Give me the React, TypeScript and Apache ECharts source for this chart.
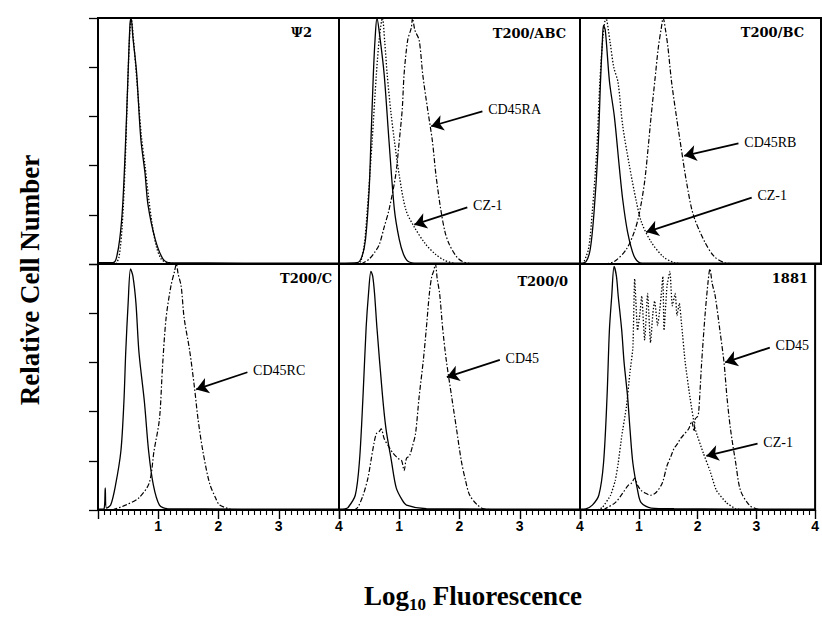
import React, { useEffect, useRef } from 'react';
import * as echarts from 'echarts';

// ---------- data: [log10 fluorescence, relative cell number (% of panel height)] ----------
// Panel "Ψ2"
const psi2Control = [[0,0.5],[0.25,0.5],[0.3,2],[0.36,10],[0.41,24],[0.46,51],[0.5,78],[0.53,97],[0.55,100],[0.58,92],[0.64,78],[0.71,51],[0.78,37],[0.83,24],[0.95,10],[1.08,2],[1.2,0.5],[4,0.3]];
const psi2Stain = [[0.3,0],[0.35,3],[0.4,15],[0.45,40],[0.49,70],[0.52,90],[0.55,100],[0.6,88],[0.66,70],[0.72,52],[0.78,40],[0.84,27],[0.9,16],[0.97,7],[1.05,2],[1.15,0.5],[1.4,0]];
// Panel "T200/ABC"
const abcControl = [[0,0.3],[0.3,0.5],[0.38,3],[0.44,10],[0.5,30],[0.53,50],[0.57,77],[0.6,92],[0.63,100],[0.68,92],[0.75,77],[0.83,50],[0.92,22],[1.0,10],[1.07,4],[1.15,1],[1.3,0.3],[4,0.3]];
const abcCZ1 = [[0.3,0],[0.36,1],[0.42,8],[0.47,22],[0.55,50],[0.62,77],[0.67,92],[0.72,100],[0.76,90],[0.8,77],[0.86,62],[0.92,50],[1.0,36],[1.11,22],[1.25,15],[1.44,8],[1.6,4],[1.75,1.5],[1.9,0.3]];
const abcCD45RA = [[0.37,0],[0.5,2],[0.6,5],[0.67,8],[0.75,15],[0.83,22],[0.94,36],[1.0,50],[1.05,63],[1.08,77],[1.14,91],[1.2,96],[1.22,100],[1.26,95],[1.33,91],[1.39,77],[1.47,63],[1.55,50],[1.61,36],[1.69,22],[1.76,13],[1.83,8],[1.95,3],[2.05,1],[2.2,0]];
// Panel "T200/BC"
const bcControl = [[0,0.3],[0.1,1],[0.17,6],[0.23,20],[0.3,47],[0.34,74],[0.37,90],[0.39,97],[0.42,95],[0.49,74],[0.57,60],[0.65,40],[0.71,26],[0.79,13],[0.9,3],[1.0,0.5],[1.2,0.3],[4,0.3]];
const bcCZ1 = [[0.05,0],[0.14,6],[0.2,20],[0.28,47],[0.33,74],[0.38,92],[0.43,100],[0.5,90],[0.56,80],[0.63,74],[0.71,56],[0.82,40],[0.93,26],[1.02,17],[1.18,9],[1.38,3],[1.57,0.5],[1.8,0]];
const bcCD45RB = [[0.4,0],[0.57,1],[0.77,6],[0.9,13],[0.98,20],[1.07,33],[1.13,47],[1.18,60],[1.24,74],[1.3,88],[1.35,96],[1.38,100],[1.42,95],[1.46,88],[1.52,74],[1.6,60],[1.68,47],[1.77,33],[1.88,20],[2.07,9],[2.23,3],[2.4,0.5],[2.6,0]];
// Panel "T200/C"
const cControl = [[0,0.3],[0.1,0.5],[0.12,9],[0.14,0.8],[0.21,2],[0.29,10],[0.38,24],[0.43,44],[0.46,64],[0.5,84],[0.54,98],[0.58,95],[0.63,84],[0.68,64],[0.77,44],[0.84,24],[0.92,10],[1.02,2],[1.15,0.5],[4,0.3]];
const cCD45RC = [[0.24,0],[0.46,2],[0.68,5],[0.85,11],[0.93,24],[1.02,37],[1.07,58],[1.13,78],[1.21,91],[1.27,97],[1.3,100],[1.33,96],[1.38,91],[1.43,78],[1.52,65],[1.6,50],[1.66,37],[1.74,24],[1.85,11],[1.95,5],[2.02,2],[2.2,0.3]];
// Panel "T200/0"
const zeroControl = [[0,0.3],[0.1,0.5],[0.15,1],[0.27,6],[0.34,20],[0.4,47],[0.45,74],[0.49,88],[0.53,97],[0.56,95],[0.59,88],[0.63,74],[0.72,47],[0.78,33],[0.87,20],[0.95,9],[1.05,4],[1.12,2],[1.45,0.5],[4,0.3]];
const zeroCD45 = [[0.25,0],[0.31,1],[0.4,6],[0.48,13],[0.53,20],[0.58,27],[0.62,31],[0.67,32],[0.7,33],[0.75,29],[0.82,26],[0.9,23],[0.98,21],[1.04,20],[1.08,16],[1.12,21],[1.17,22],[1.22,26],[1.27,31],[1.33,46],[1.4,61],[1.45,74],[1.5,88],[1.54,95],[1.57,97],[1.6,100],[1.63,94],[1.67,88],[1.72,74],[1.78,61],[1.87,46],[1.95,33],[2.03,20],[2.1,12],[2.17,6],[2.3,2],[2.4,0.5],[2.6,0]];
// Panel "1881"
const cellControl = [[0,0.3],[0.1,0.5],[0.21,2],[0.32,6],[0.4,19],[0.46,46],[0.5,73],[0.54,87],[0.58,99],[0.62,95],[0.65,87],[0.71,73],[0.75,60],[0.81,46],[0.85,33],[0.9,19],[0.98,8],[1.04,3],[1.21,0.8],[1.6,0.5],[4,0.3]];
const cellCZ1 = [[0.3,0],[0.38,1],[0.52,6],[0.6,12],[0.65,19],[0.71,30],[0.79,42],[0.85,56],[0.9,66],[0.93,94],[0.98,73],[1.02,80],[1.05,87],[1.1,69],[1.15,88],[1.2,68],[1.24,80],[1.27,85],[1.32,75],[1.36,82],[1.38,87],[1.41,95],[1.43,73],[1.48,91],[1.53,97],[1.57,83],[1.62,88],[1.65,79],[1.69,84],[1.73,75],[1.79,60],[1.87,46],[1.96,33],[2.1,23],[2.21,16],[2.32,8],[2.49,3],[2.65,0.5],[2.8,0]];
const cellCD45 = [[0.4,0],[0.43,0.5],[0.6,3],[0.73,7],[0.82,10],[0.88,11],[0.93,13],[0.98,10],[1.04,8],[1.1,7],[1.2,6],[1.29,7],[1.4,11],[1.48,18],[1.55,22],[1.6,25],[1.66,27],[1.71,29],[1.78,31],[1.85,33],[1.9,36],[1.94,32],[1.96,37],[2.0,38],[2.02,40],[2.07,60],[2.13,80],[2.18,93],[2.21,98],[2.25,92],[2.3,87],[2.38,73],[2.45,60],[2.5,46],[2.56,33],[2.65,19],[2.73,8],[2.88,2],[3.0,0.5],[3.1,0]];

// annotation arrows: [label, tail x, tail y, head x, head y] in data units
const abcArrows = [['CD45RA', 2.38, 62, 1.53, 56], ['CZ-1', 2.13, 23, 1.25, 16]];
const bcArrows = [['CD45RB', 2.63, 49, 1.73, 44], ['CZ-1', 2.85, 27, 1.1, 13]];
const cArrows = [['CD45RC', 2.48, 56, 1.63, 49]];
const zeroArrows = [['CD45', 2.67, 61, 1.79, 54]];
const cellArrows = [['CD45', 3.23, 66, 2.47, 60], ['CZ-1', 3.02, 27, 2.15, 22]];

const panelNames = ['Ψ2', 'T200/ABC', 'T200/BC', 'T200/C', 'T200/0', '1881'];
const xTickLabels = ['', '1', '2', '3', '4'];
const xTitleMain = 'Log';
const xTitleSub = '10';
const xTitleRest = ' Fluorescence';
const yTitle = 'Relative Cell Number';

type Style = 'solid' | 'dotted' | 'dashdot';
const panelCurves: [number[][], Style][][] = [
  [[psi2Control, 'solid'], [psi2Stain, 'dotted']],
  [[abcControl, 'solid'], [abcCZ1, 'dotted'], [abcCD45RA, 'dashdot']],
  [[bcControl, 'solid'], [bcCZ1, 'dotted'], [bcCD45RB, 'dashdot']],
  [[cControl, 'solid'], [cCD45RC, 'dashdot']],
  [[zeroControl, 'solid'], [zeroCD45, 'dashdot']],
  [[cellControl, 'solid'], [cellCZ1, 'dotted'], [cellCD45, 'dashdot']],
];
const panelArrows: any[][] = [[], abcArrows, bcArrows, cArrows, zeroArrows, cellArrows];

// ---------- layout ----------
const COL_LEFT = [98, 339, 580];
const ROW_TOP = [18, 264];
const PW = 241;
const PH = 246;
const LABEL_POS = [
  [312, 32], [566, 33], [804, 32],
  [332, 278], [568, 281], [808, 278],
];

const lineStyles: Record<Style, any> = {
  solid: { color: '#000', width: 1.3, type: 'solid' },
  dotted: { color: '#000', width: 1.3, type: [1.4, 1.8] },
  dashdot: { color: '#000', width: 1.2, type: [5, 2, 1.5, 2] },
};

export default function App() {
  const ref = useRef<HTMLDivElement>(null);
  useEffect(() => {
    if (!ref.current) return;
    const chart = echarts.init(ref.current, null, { renderer: 'svg' });
    const grid: any[] = [];
    const xAxis: any[] = [];
    const yAxis: any[] = [];
    const series: any[] = [];
    for (let i = 0; i < 6; i++) {
      const row = Math.floor(i / 3);
      const col = i % 3;
      grid.push({
        left: COL_LEFT[col], top: ROW_TOP[row], width: PW, height: PH,
        show: true, borderColor: '#000', borderWidth: 2, backgroundColor: 'transparent',
      });
      const bottom = row === 1;
      xAxis.push({
        gridIndex: i, type: 'value', min: 0, max: 4, interval: 1, position: 'bottom',
        axisLine: { show: bottom, onZero: false, lineStyle: { color: '#000', width: 2 } },
        axisTick: { show: bottom, length: 9, lineStyle: { color: '#000', width: 1.4 } },
        minorTick: { show: bottom, splitNumber: 10, length: 5, lineStyle: { color: '#000', width: 1.1 } },
        axisLabel: {
          show: bottom, margin: 9, color: '#000', fontSize: 14, fontWeight: 'bold',
          fontFamily: 'Liberation Sans',
          formatter: (v: number) => xTickLabels[Math.round(v)] ?? '',
        },
        splitLine: { show: false },
      });
      yAxis.push({
        gridIndex: i, type: 'value', min: 0, max: 100, interval: 20,
        axisLine: { show: false },
        axisTick: { show: col === 0, length: 9, lineStyle: { color: '#000', width: 1.3 } },
        axisLabel: { show: false },
        splitLine: { show: false },
      });
      panelCurves[i].forEach(([data, st], k) => {
        const s: any = {
          type: 'line', xAxisIndex: i, yAxisIndex: i, data,
          symbol: 'none', showSymbol: false, smooth: i === 5 && k === 1 ? 0.15 : 0.3,
          lineStyle: lineStyles[st], silent: true, z: 3,
        };
        if (k === 0 && panelArrows[i].length) {
          s.markLine = {
            silent: true,
            symbol: ['none', 'arrow'],
            symbolSize: 12,
            lineStyle: { color: '#000', width: 1.8, type: 'solid' },
            label: {
              show: true, position: 'start', distance: 6, color: '#000',
              fontFamily: 'Liberation Serif', fontSize: 14,
              formatter: (p: any) => p.name,
            },
            data: panelArrows[i].map((a: any[]) => [
              { name: a[0], coord: [a[1], a[2]], symbol: 'none' },
              { coord: [a[3], a[4]], symbol: 'arrow', symbolSize: 12 },
            ]),
          };
        }
        series.push(s);
      });
    }
    const graphic: any[] = panelNames.map((name, i) => ({
      type: 'text', x: LABEL_POS[i][0], y: LABEL_POS[i][1], z: 10,
      style: {
        text: name, fill: '#000', font: 'bold 13px "DejaVu Serif"',
        textAlign: 'right', textVerticalAlign: 'middle',
      },
    }));
    graphic.push({
      type: 'text', x: 30, y: 280, rotation: Math.PI / 2, z: 10,
      style: {
        text: yTitle, fill: '#000', font: 'bold 27px "Liberation Serif"',
        textAlign: 'center', textVerticalAlign: 'middle',
      },
    });
    graphic.push({
      type: 'text', x: 473, y: 596, z: 10,
      style: {
        text: `{a|${xTitleMain}}{b|${xTitleSub}}{a|${xTitleRest}}`,
        textAlign: 'center', textVerticalAlign: 'middle',
        rich: {
          a: { fontSize: 27, fontWeight: 'bold', fontFamily: 'Liberation Serif', fill: '#000', lineHeight: 34, verticalAlign: 'middle' },
          b: { fontSize: 17, fontWeight: 'bold', fontFamily: 'Liberation Serif', fill: '#000', lineHeight: 34, verticalAlign: 'bottom' },
        },
      },
    });
    chart.setOption({
      animation: false,
      backgroundColor: '#fff',
      grid, xAxis, yAxis, series, graphic,
    });
    return () => chart.dispose();
  }, []);
  return <div ref={ref} style={{ position: 'absolute', left: 0, top: 0, width: 822, height: 618 }} />;
}
